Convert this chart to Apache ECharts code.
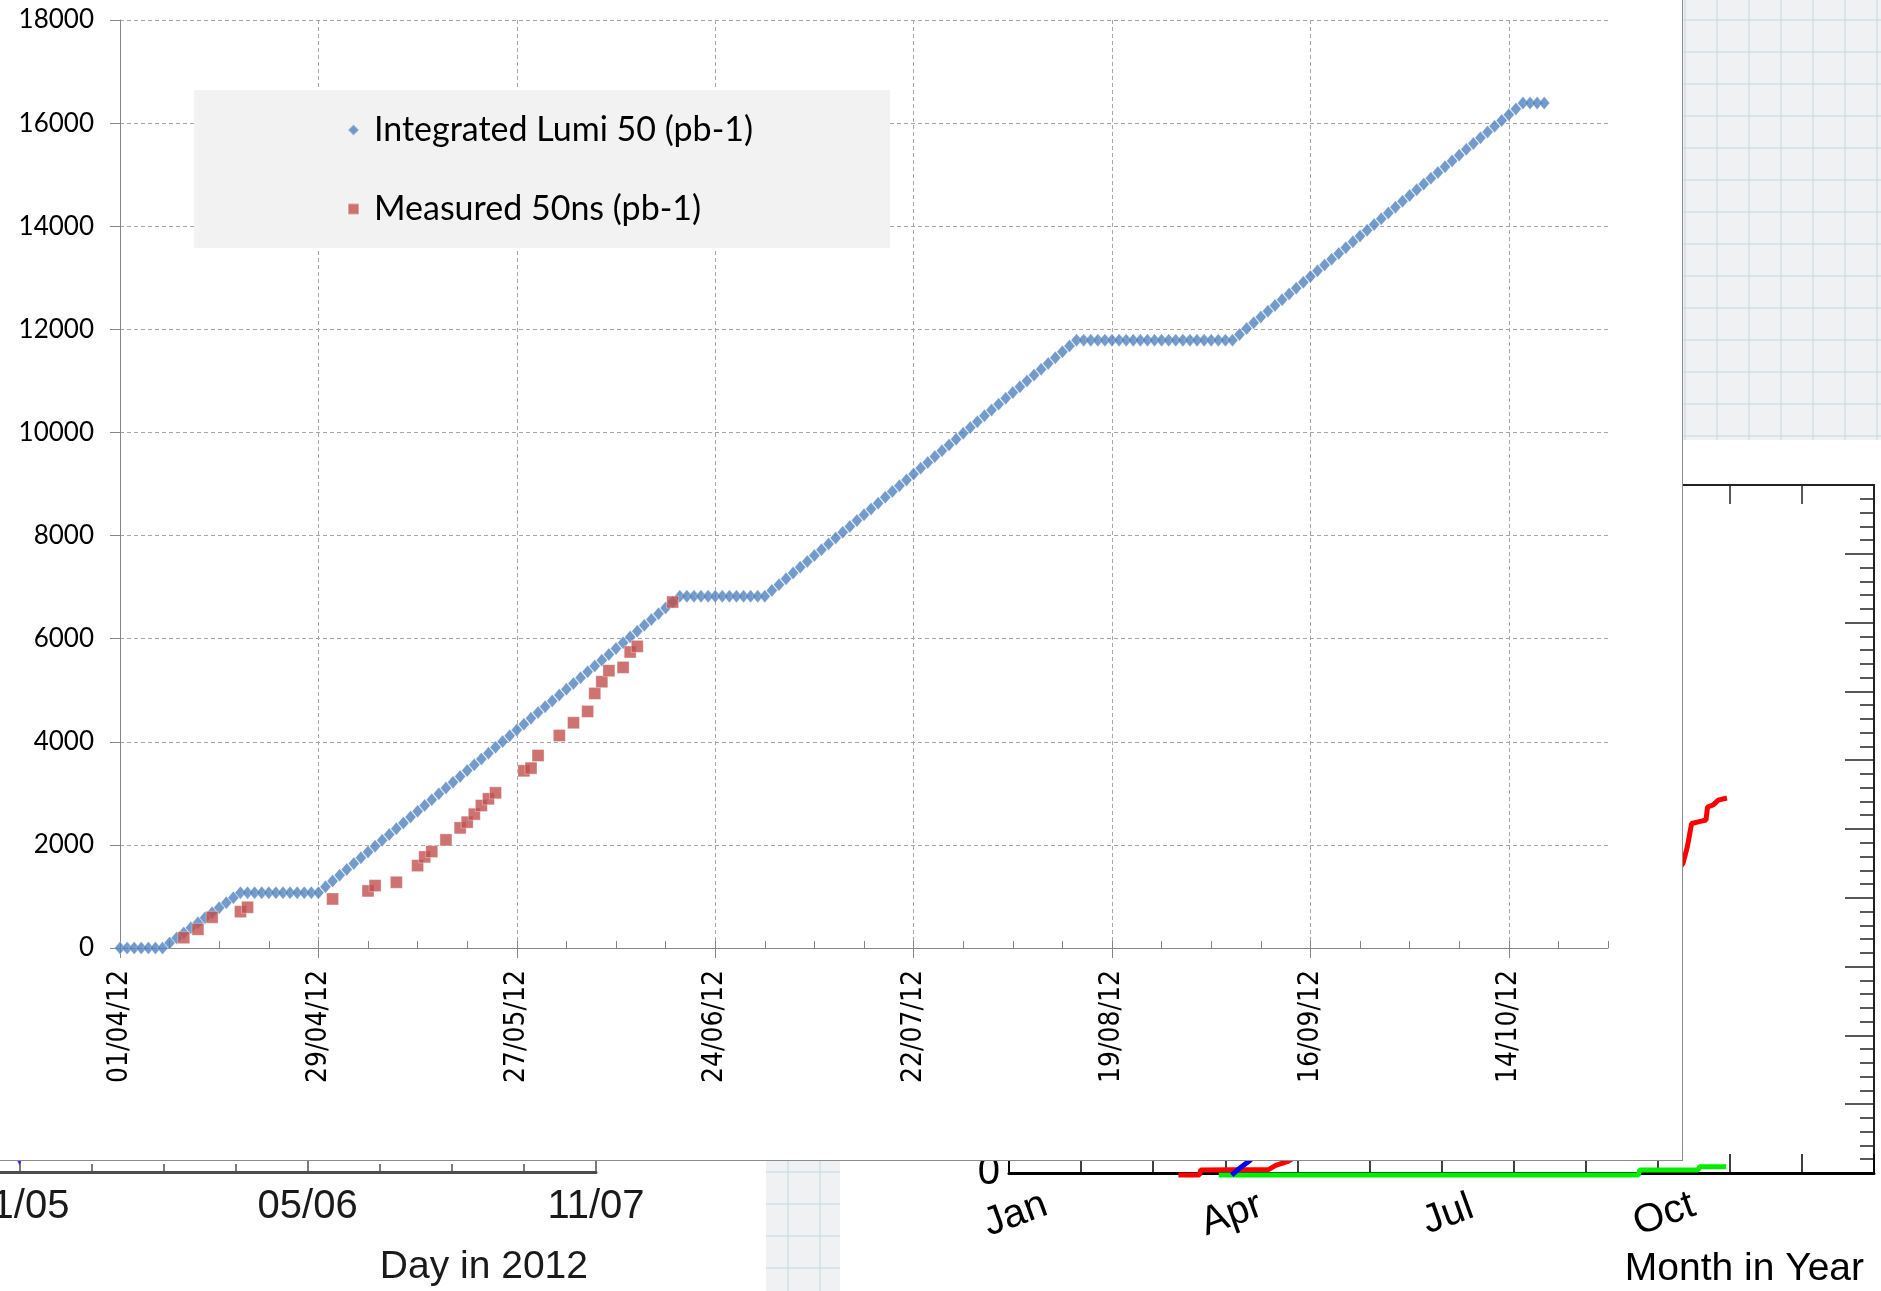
<!DOCTYPE html>
<html>
<head>
<meta charset="utf-8">
<title>Integrated luminosity 2012</title>
<script src="https://cdn.jsdelivr.net/npm/echarts@6/dist/echarts.min.js"></script>
<style>
  html, body { margin: 0; padding: 0; background: #ffffff; overflow: hidden; }
  #stage { position: relative; width: 1881px; height: 1291px; overflow: hidden; }
  #back { position: absolute; left: -300px; top: 0; width: 2181px; height: 1291px; z-index: 0; }
  .paper {
    position: absolute; z-index: 1;
    background-color: #f0f1f2;
    background-image:
      linear-gradient(to right, rgba(200, 218, 226, 0.55) 2px, transparent 2px),
      linear-gradient(to bottom, rgba(200, 218, 226, 0.55) 2px, transparent 2px);
    background-size: 32px 32px;
  }
  #paperTop { left: 1683px; top: 0; width: 198px; height: 440px; background-position: 1px 19px; }
  #paperBottom { left: 766px; top: 1161px; width: 74px; height: 130px; background-position: 21px 10px; }
  #main {
    position: absolute; left: 0; top: 0; width: 1682px; height: 1160px; z-index: 2;
    background: #ffffff; border-right: 1px solid #8c8c8c; border-bottom: 1px solid #8c8c8c;
  }
</style>
</head>
<body>
<div id="stage">
  <div id="back"></div>
  <div class="paper" id="paperTop"></div>
  <div class="paper" id="paperBottom"></div>
  <div id="main"></div>
</div>
<script>
// ---- Main chart: 50 ns integrated luminosity, one value per day from 01/04/12 ----
const dateTicks = ['01/04/12', '29/04/12', '27/05/12', '24/06/12', '22/07/12', '19/08/12', '16/09/12', '14/10/12'];
const axisDays = 210;            // axis runs 01/04/12 .. 28/10/12

const integratedLumi = [
  0, 0, 0, 0, 0, 0, 0,
  98, 195, 293, 391, 488, 586, 684, 781, 879, 976, 1074,
  1074, 1074, 1074, 1074, 1074, 1074, 1074, 1074, 1074, 1074, 1074,
  1187, 1299, 1412, 1525, 1638, 1750, 1863, 1976, 2088, 2201, 2314, 2426, 2539, 2652, 2765, 2877,
  2990, 3103, 3215, 3328, 3441, 3553, 3666, 3779, 3892, 4004, 4117, 4230, 4342, 4455, 4568, 4680,
  4793, 4906, 5019, 5131, 5244, 5357, 5469, 5582, 5695, 5807, 5920, 6033, 6146, 6258, 6371, 6484,
  6596, 6709, 6822,
  6822, 6822, 6822, 6822, 6822, 6822, 6822, 6822, 6822, 6822, 6822, 6822,
  6935, 7048, 7161, 7274, 7387, 7499, 7612, 7725, 7838, 7951, 8064, 8177, 8290, 8403, 8516, 8628,
  8741, 8854, 8967, 9080, 9193, 9306, 9419, 9532, 9645, 9757, 9870, 9983, 10096, 10209, 10322, 10435,
  10548, 10661, 10774, 10886, 10999, 11112, 11225, 11338, 11451, 11564, 11677, 11790,
  11790, 11790, 11790, 11790, 11790, 11790, 11790, 11790, 11790, 11790, 11790,
  11790, 11790, 11790, 11790, 11790, 11790, 11790, 11790, 11790, 11790, 11790,
  11902, 12014, 12126, 12239, 12351, 12463, 12575, 12687, 12799, 12912, 13024, 13136, 13248, 13360,
  13472, 13584, 13697, 13809, 13921, 14033, 14145, 14257, 14370, 14482, 14594, 14706, 14818, 14930,
  15042, 15155, 15267, 15379, 15491, 15603, 15715, 15828, 15940, 16052, 16164, 16276, 16388,
  16388, 16388, 16388
];

const measuredDays = [9, 11, 13, 17, 18, 30, 35, 36, 39, 42, 43, 44, 46, 48, 49, 50,
  51, 52, 53, 57, 58, 59, 62, 64, 66, 67, 68, 69, 71, 72, 73, 78];
const measuredValues = [200, 363, 596, 705, 790, 951, 1107, 1210, 1275, 1598, 1767, 1870, 2097, 2330, 2441, 2596,
  2763, 2893, 3010, 3437, 3489, 3734, 4122, 4369, 4589, 4938, 5165, 5379, 5443, 5742, 5851, 6710];

const lumiName = 'Integrated Lumi 50 (pb-1)';
const measuredName = 'Measured 50ns (pb-1)';

// ---- Charts lying underneath ----
const dayTickLabels = ['01/05', '05/06', '11/07'];
const dayMarker = [[0, 0.186]];
const monthLabels = ['Jan', 'Apr', 'Jul', 'Oct'];
// cumulative luminosity per year, x in months from 1 Jan, y in fb-1
const lumi2010 = [[2.91, -0.03], [8.73, -0.03], [8.75, 0.045], [9.56, 0.045], [9.58, 0.09], [9.95, 0.09]];
const lumi2011 = [[2.35, -0.03], [2.64, -0.03], [2.66, 0.045], [3.6, 0.05], [3.7, 0.11], [3.87, 0.17],
  [4.0, 0.25], [4.5, 0.55], [5.0, 0.85], [5.5, 1.15], [6.0, 1.35], [6.5, 1.75], [7.0, 2.3], [7.5, 2.85],
  [8.0, 3.25], [8.5, 3.65], [9.0, 4.05], [9.35, 4.5], [9.41, 4.74], [9.47, 5.08], [9.59, 5.11],
  [9.67, 5.13], [9.69, 5.32], [9.77, 5.35], [9.84, 5.42], [9.96, 5.45]];
const lumi2012 = [[3.09, -0.03], [3.2, 0.07], [3.35, 0.19], [3.7, 0.6], [4.0, 1.1], [4.5, 2.4], [5.0, 3.6],
  [5.5, 5.2], [6.0, 6.6], [6.5, 7.6], [7.0, 9.0], [7.5, 10.8], [8.0, 12.3], [9.0, 15.0]];

const dayIndex = Array.from({ length: axisDays + 1 }, (_, i) => i);
const gridGrey = '#a6a6a6';
const axisGrey = '#868686';

// the underlying canvas starts 300px left of the page, so its first grid can begin off-page
const back = echarts.init(document.getElementById('back'));
back.setOption({
  animation: false,
  grid: [
    { left: 31, width: 865, top: 472, bottom: 119 },
    { left: 1309, right: 7, top: 485, bottom: 118 }
  ],
  xAxis: [
    {
      gridIndex: 0, type: 'value', position: 'bottom', min: -4, max: 8, interval: 1,
      axisLine: { onZero: false, lineStyle: { color: '#4d4d4d', width: 3 } },
      axisTick: { inside: true, length: 8, lineStyle: { color: '#4d4d4d', width: 1.5 } },
      axisLabel: { show: false }, splitLine: { show: false }
    },
    {
      gridIndex: 0, type: 'value', position: 'bottom', min: -4, max: 8, interval: 4,
      axisLine: { show: false, onZero: false },
      axisTick: { inside: true, length: 14, lineStyle: { color: '#4d4d4d', width: 1.5 } },
      axisLabel: {
        margin: 15, fontFamily: 'Liberation Sans', fontSize: 40, color: '#1a1a1a',
        formatter: v => (v >= 0 ? dayTickLabels[v / 4] : '')
      },
      splitLine: { show: false },
      name: 'Day in 2012', nameLocation: 'end', nameGap: -8,
      nameTextStyle: { fontFamily: 'Liberation Sans', fontSize: 39, color: '#1a1a1a', align: 'right', verticalAlign: 'top', padding: [76, 0, 0, 0] }
    },
    {
      gridIndex: 1, type: 'value', position: 'bottom', min: 0, max: 12, interval: 1, z: 3,
      axisLine: { onZero: false, lineStyle: { color: '#000', width: 3 } },
      axisTick: { inside: true, length: 19, lineStyle: { color: '#000', width: 1.5 } },
      axisLabel: {
        rotate: 20, align: 'center', verticalAlign: 'middle', margin: 44, padding: [0, 0, 0, 14],
        fontFamily: 'Liberation Sans', fontSize: 40, color: '#000',
        formatter: v => (v % 3 === 0 && v < 12 ? monthLabels[v / 3] : '')
      },
      splitLine: { show: false },
      name: 'Month in Year', nameLocation: 'end', nameGap: -10,
      nameTextStyle: { fontFamily: 'Liberation Sans', fontSize: 39, color: '#000', align: 'right', verticalAlign: 'top', padding: [77, 0, 0, 0] }
    },
    {
      gridIndex: 1, type: 'value', position: 'top', min: 0, max: 12, interval: 1,
      axisLine: { onZero: false, lineStyle: { color: '#222', width: 2 } },
      axisTick: { inside: true, length: 19, lineStyle: { color: '#222', width: 1.5 } },
      axisLabel: { show: false }, splitLine: { show: false }
    }
  ],
  yAxis: [
    { gridIndex: 0, type: 'value', min: 0, max: 10, show: false },
    {
      gridIndex: 1, type: 'value', position: 'left', min: 0, max: 10, interval: 1,
      axisLine: { show: true, onZero: false, lineStyle: { color: '#000', width: 2 } },
      axisTick: { inside: true, length: 29, lineStyle: { color: '#000', width: 1.5 } },
      minorTick: { show: true, splitNumber: 5, length: 14, lineStyle: { color: '#000', width: 1.5 } },
      axisLabel: { margin: 9, fontFamily: 'Liberation Sans', fontSize: 40, color: '#000' },
      splitLine: { show: false }
    },
    {
      gridIndex: 1, type: 'value', position: 'right', min: 0, max: 10, interval: 1,
      axisLine: { show: true, onZero: false, lineStyle: { color: '#222', width: 2 } },
      axisTick: { inside: true, length: 29, lineStyle: { color: '#222', width: 1.5 } },
      minorTick: { show: true, splitNumber: 5, length: 14, lineStyle: { color: '#222', width: 1.5 } },
      axisLabel: { show: false }, splitLine: { show: false }
    }
  ],
  series: [
    {
      type: 'scatter', xAxisIndex: 0, yAxisIndex: 0, data: dayMarker,
      symbol: 'triangle', symbolRotate: 180, symbolSize: 12, itemStyle: { color: '#1010ff' }
    },
    {
      type: 'line', xAxisIndex: 2, yAxisIndex: 1, data: lumi2010, showSymbol: false, clip: false,
      lineStyle: { color: '#00ee00', width: 5 }
    },
    {
      type: 'line', xAxisIndex: 2, yAxisIndex: 1, data: lumi2011, showSymbol: false, clip: false,
      lineStyle: { color: '#ff0000', width: 5 }
    },
    {
      type: 'line', xAxisIndex: 2, yAxisIndex: 1, data: lumi2012, showSymbol: false, clip: false,
      lineStyle: { color: '#0000ff', width: 5 }
    }
  ]
});

const main = echarts.init(document.getElementById('main'));
main.setOption({
  animation: false,
  backgroundColor: '#ffffff',
  grid: { left: 120, right: 74, top: 20, bottom: 212 },
  legend: {
    orient: 'vertical', left: 194, top: 90,
    backgroundColor: '#f2f2f2',
    padding: [20, 137, 19, 153],
    itemGap: 39, itemWidth: 11, itemHeight: 11,
    textStyle: { fontFamily: 'Lato', fontSize: 34, color: '#000', lineHeight: 40, padding: [0, 0, 0, 10] },
    data: [{ name: lumiName, icon: 'diamond' }, { name: measuredName, icon: 'rect' }]
  },
  xAxis: [
    {
      type: 'category', data: dayIndex, boundaryGap: false, position: 'bottom',
      axisLine: { onZero: false, lineStyle: { color: axisGrey, width: 1 } },
      axisTick: { interval: 27, length: 10, lineStyle: { color: axisGrey } },
      axisLabel: {
        interval: 27, rotate: 90, margin: 22,
        fontFamily: "'DejaVu Sans Condensed', 'DejaVu Sans'", fontSize: 28, color: '#000',
        formatter: (v, i) => dateTicks[i / 28]
      },
      splitLine: { show: true, interval: 27, lineStyle: { color: gridGrey, type: [4, 3], width: 1 } }
    },
    {
      type: 'category', data: dayIndex, boundaryGap: false, position: 'bottom',
      axisLine: { show: false, onZero: false },
      axisTick: { interval: 6, inside: true, length: 7, lineStyle: { color: axisGrey } },
      axisLabel: { show: false }, splitLine: { show: false }
    }
  ],
  yAxis: {
    type: 'value', min: 0, max: 18000, interval: 2000,
    axisLine: { show: true, lineStyle: { color: axisGrey } },
    axisTick: { show: true, length: 10, lineStyle: { color: axisGrey } },
    axisLabel: { margin: 26, fontFamily: 'Lato', fontSize: 26, color: '#000', formatter: v => String(v) },
    splitLine: { lineStyle: { color: gridGrey, type: [4, 3], width: 1 } }
  },
  series: [
    {
      name: lumiName, type: 'scatter', xAxisIndex: 0, data: integratedLumi,
      symbol: 'diamond', symbolSize: [11, 13],
      itemStyle: { color: '#4f81bd', borderColor: 'rgba(255,255,255,0.3)', borderWidth: 1 }
    },
    {
      name: measuredName, type: 'scatter', xAxisIndex: 0,
      data: measuredDays.map((d, i) => [d, measuredValues[i]]),
      symbol: 'rect', symbolSize: 12,
      itemStyle: { color: '#c0504d', borderColor: 'rgba(255,255,255,0.45)', borderWidth: 1 }
    }
  ]
});
</script>
</body>
</html>
